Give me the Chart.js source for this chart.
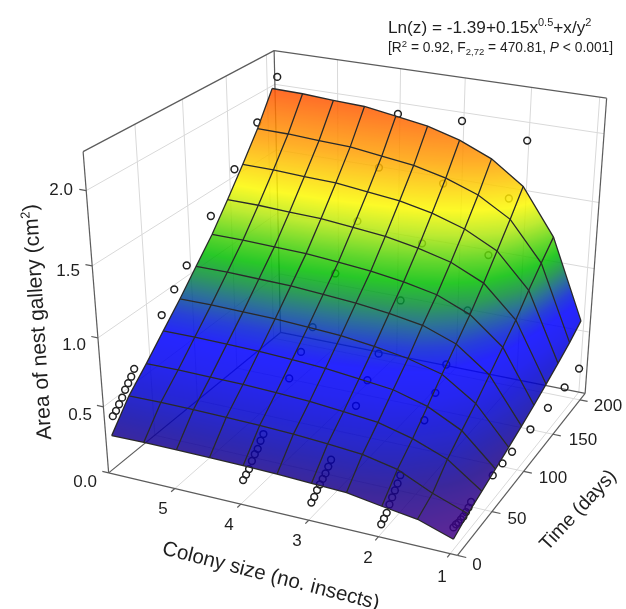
<!DOCTYPE html>
<html>
<head>
<meta charset="utf-8">
<style>html,body{margin:0;padding:0;background:#fff}canvas{display:block}</style>
<script src="https://cdn.jsdelivr.net/npm/chart.js@4"></script>
</head>
<body>
<canvas id="chart" width="626" height="609"></canvas>
<script>
// surface grid, rows = time, columns = colony size
const colonyGrid = [6, 5.5, 5, 4.5, 4, 3.5, 3, 2.5, 2, 1.5, 1];
const timeGrid = [4, 24, 44, 64, 84, 104, 124, 144, 164, 184, 204];
const areaGrid = [
  [0.265, 0.27, 0.27, 0.268, 0.265, 0.26, 0.25, 0.24, 0.2, 0.165, 0.08],
  [0.454, 0.458, 0.456, 0.453, 0.447, 0.438, 0.422, 0.4, 0.347, 0.23, 0.138],
  [0.591, 0.594, 0.591, 0.588, 0.579, 0.567, 0.546, 0.52, 0.455, 0.36, 0.18],
  [0.737, 0.739, 0.735, 0.731, 0.719, 0.704, 0.679, 0.65, 0.58, 0.455, 0.224],
  [0.882, 0.884, 0.878, 0.874, 0.859, 0.845, 0.815, 0.775, 0.71, 0.545, 0.269],
  [1.037, 1.037, 1.031, 1.025, 1.008, 0.99, 0.96, 0.92, 0.83, 0.65, 0.316],
  [1.191, 1.191, 1.183, 1.176, 1.156, 1.135, 1.1, 1.05, 0.95, 0.755, 0.364],
  [1.371, 1.37, 1.36, 1.353, 1.329, 1.305, 1.26, 1.2, 1.09, 0.86, 0.419],
  [1.56, 1.557, 1.546, 1.538, 1.511, 1.485, 1.435, 1.36, 1.24, 0.99, 0.476],
  [1.757, 1.753, 1.74, 1.731, 1.701, 1.67, 1.615, 1.53, 1.39, 1.105, 0.537],
  [1.99, 1.985, 1.97, 1.96, 1.925, 1.887, 1.82, 1.72, 1.555, 1.215, 0.61],
];

// observed colonies
const obsTimes = [3.5, 7, 10.5, 14, 17.5, 21, 24.5, 28, 60, 75, 90, 120, 150, 180, 207];
const obsColonies = [5.95, 4, 3, 2, 1];
const obsArea6 = [0.42, 0.44, 0.47, 0.5, 0.54, 0.57, 0.6, 0.64, 0.88, 1.0, 1.11, 1.35, 1.58, 1.82, 2.07];
const obsArea4 = [0.16, 0.18, 0.2, 0.24, 0.27, 0.29, 0.33, 0.36, 0.6, 0.72, 0.83, 1.09, 1.35, 1.63, 1.93];
const obsArea3 = [0.11, 0.13, 0.16, 0.18, 0.2, 0.22, 0.25, 0.28, 0.5, 0.61, 0.73, 0.98, 1.27, 1.59, 1.95];
const obsArea2 = [0.07, 0.09, 0.11, 0.15, 0.18, 0.21, 0.24, 0.28, 0.5, 0.62, 0.75, 1.0, 1.27, 1.56, 1.88];
const obsArea1 = [0.17, 0.17, 0.16, 0.16, 0.16, 0.17, 0.18, 0.2, 0.2, 0.2, 0.2, 0.2, 0.2, 0.2, 0.21];

const colonyTicks = [5, 4, 3, 2, 1];
const timeTicks = [0, 50, 100, 150, 200];
const areaTicks = [0, 0.5, 1, 1.5, 2];

// axis extents of the box
const colonyStart = 6.03, colonyEnd = 0.9, timeEnd = 210, areaTop = 2.25;

// z -> colour stops
const colourStops = [
  [0.08, [95, 40, 150]], [0.25, [60, 40, 155]], [0.36, [45, 40, 180]], [0.45, [40, 40, 205]],
  [0.6, [32, 35, 240]], [0.72, [30, 35, 255]], [0.82, [40, 65, 215]], [0.92, [45, 115, 150]],
  [1.0, [45, 155, 90]], [1.1, [40, 200, 40]], [1.2, [100, 215, 45]], [1.33, [190, 235, 50]],
  [1.45, [252, 250, 40]], [1.7, [255, 175, 40]], [2.0, [255, 105, 40]],
];
const surfaceAlpha = 0.85;

// camera: floor homography plus vertical vanishing point
function project(colony, time, area) {
  const u = (colonyStart - colony) / (colonyStart - colonyEnd);
  const v = time / timeEnd;
  const s = -0.04187 * area;
  const w = 1 - 0.0681 * u + 0.1737 * v + s;
  return {
    x: (323.7 * u + 223.6 * v + 105 + s * 355) / w,
    y: (45.9 * u - 85.2 * v + 476 + s * 3622) / w,
  };
}

function colourAt(z) {
  const stops = colourStops;
  let rgb = stops[stops.length - 1][1];
  if (z <= stops[0][0]) rgb = stops[0][1];
  for (let i = 1; i < stops.length; i++) {
    if (z <= stops[i][0] && z > stops[i - 1][0]) {
      const f = (z - stops[i - 1][0]) / (stops[i][0] - stops[i - 1][0]);
      rgb = stops[i][1].map((c, n) => stops[i - 1][1][n] + (c - stops[i - 1][1][n]) * f);
      break;
    }
  }
  // undo the white showing through the alpha
  return rgb.map((c) => Math.max(0, Math.min(255, (c - 255 * (1 - surfaceAlpha)) / surfaceAlpha)));
}

function lineSet(points, color, width, order) {
  return { data: points, showLine: true, borderColor: color, borderWidth: width, pointRadius: 0, order };
}

const grid = '#d9d9d9', frame = '#5c5c5c', mesh = '#2a2a2a';
const datasets = [];
const seg = (a, b) => [project(...a), project(...b)];

// walls and floor
areaTicks.slice(1).forEach((z) => {
  datasets.push(lineSet(seg([colonyStart, 0, z], [colonyStart, timeEnd, z]), grid, 1, 5));
  datasets.push(lineSet(seg([colonyStart, timeEnd, z], [colonyEnd, timeEnd, z]), grid, 1, 5));
});
timeTicks.slice(1).forEach((t) => {
  datasets.push(lineSet(seg([colonyStart, t, 0], [colonyStart, t, areaTop]), grid, 1, 5));
  datasets.push(lineSet(seg([colonyStart, t, 0], [colonyEnd, t, 0]), grid, 1, 5));
});
colonyTicks.forEach((c) => {
  datasets.push(lineSet(seg([c, timeEnd, 0], [c, timeEnd, areaTop]), grid, 1, 5));
  datasets.push(lineSet(seg([c, 0, 0], [c, timeEnd, 0]), grid, 1, 5));
});

// box frame
[
  [[colonyStart, 0, 0], [colonyStart, 0, areaTop]],
  [[colonyStart, 0, areaTop], [colonyStart, timeEnd, areaTop]],
  [[colonyStart, timeEnd, areaTop], [colonyEnd, timeEnd, areaTop]],
  [[colonyEnd, timeEnd, areaTop], [colonyEnd, timeEnd, 0]],
  [[colonyStart, timeEnd, 0], [colonyStart, timeEnd, areaTop]],
  [[colonyStart, 0, 0], [colonyEnd, 0, 0]],
  [[colonyEnd, 0, 0], [colonyEnd, timeEnd, 0]],
  [[colonyStart, 0, 0], [colonyStart, timeEnd, 0]],
  [[colonyStart, timeEnd, 0], [colonyEnd, timeEnd, 0]],
].forEach(([a, b]) => datasets.push(lineSet(seg(a, b), frame, 1.2, 4)));

// tick marks
colonyTicks.forEach((c) => datasets.push(lineSet(seg([c, 0, 0], [c, -4, 0]), frame, 1.2, 4)));
timeTicks.forEach((t) => datasets.push(lineSet(seg([colonyEnd, t, 0], [colonyEnd - 0.12, t, 0]), frame, 1.2, 4)));
areaTicks.forEach((z) => datasets.push(lineSet(seg([colonyStart, 0, z], [colonyStart + 0.1, 0, z]), frame, 1.2, 4)));

// observations
const obsPoints = [];
[obsArea6, obsArea4, obsArea3, obsArea2, obsArea1].forEach((areas, i) => {
  areas.forEach((z, n) => obsPoints.push(project(obsColonies[i], obsTimes[n], z)));
});
datasets.push({
  id: 'points', data: obsPoints, showLine: false, order: 3,
  pointRadius: 3.4, pointBorderWidth: 1.5, pointBorderColor: '#222', pointBackgroundColor: 'rgba(0,0,0,0)',
});

// mesh lines on the surface
areaGrid.forEach((row, i) => {
  datasets.push(lineSet(row.map((z, j) => project(colonyGrid[j], timeGrid[i], z)), mesh, 1.3, 1));
});
colonyGrid.forEach((c, j) => {
  datasets.push(lineSet(areaGrid.map((row, i) => project(c, timeGrid[i], row[j])), mesh, 1.3, 1));
});

// smooth shading: fill each cell's triangles pixel by pixel
function shadeTriangle(img, a, b, c) {
  const det = (b.y - c.y) * (a.x - c.x) + (c.x - b.x) * (a.y - c.y);
  if (Math.abs(det) < 1e-6) return;
  const x0 = Math.max(0, Math.floor(Math.min(a.x, b.x, c.x)));
  const x1 = Math.min(img.width - 1, Math.ceil(Math.max(a.x, b.x, c.x)));
  const y0 = Math.max(0, Math.floor(Math.min(a.y, b.y, c.y)));
  const y1 = Math.min(img.height - 1, Math.ceil(Math.max(a.y, b.y, c.y)));
  for (let y = y0; y <= y1; y++) {
    for (let x = x0; x <= x1; x++) {
      const px = x + 0.5, py = y + 0.5;
      const l1 = ((b.y - c.y) * (px - c.x) + (c.x - b.x) * (py - c.y)) / det;
      const l2 = ((c.y - a.y) * (px - c.x) + (a.x - c.x) * (py - c.y)) / det;
      const l3 = 1 - l1 - l2;
      if (l1 < -0.01 || l2 < -0.01 || l3 < -0.01) continue;
      const rgb = colourAt(l1 * a.z + l2 * b.z + l3 * c.z);
      const at = (y * img.width + x) * 4;
      img.data[at] = rgb[0];
      img.data[at + 1] = rgb[1];
      img.data[at + 2] = rgb[2];
      img.data[at + 3] = 255 * surfaceAlpha;
    }
  }
}

const surfacePlugin = {
  id: 'surface',
  afterDatasetDraw(chart, args) {
    if (chart.data.datasets[args.index].id !== 'points') return;
    const { x: xs, y: ys } = chart.scales;
    const off = document.createElement('canvas');
    off.width = chart.width;
    off.height = chart.height;
    const g = off.getContext('2d');
    const img = g.createImageData(off.width, off.height);
    const steps = 4;
    const at = (i, j, a, b) => {
      const z = (areaGrid[i][j] * (1 - a) + areaGrid[i][j + 1] * a) * (1 - b) +
        (areaGrid[i + 1][j] * (1 - a) + areaGrid[i + 1][j + 1] * a) * b;
      const c = colonyGrid[j] + (colonyGrid[j + 1] - colonyGrid[j]) * a;
      const t = timeGrid[i] + (timeGrid[i + 1] - timeGrid[i]) * b;
      const p = project(c, t, z);
      return { x: xs.getPixelForValue(p.x), y: ys.getPixelForValue(p.y), z };
    };
    for (let i = 0; i < timeGrid.length - 1; i++) {
      for (let j = 0; j < colonyGrid.length - 1; j++) {
        for (let m = 0; m < steps; m++) {
          for (let n = 0; n < steps; n++) {
            const p00 = at(i, j, n / steps, m / steps);
            const p10 = at(i, j, (n + 1) / steps, m / steps);
            const p11 = at(i, j, (n + 1) / steps, (m + 1) / steps);
            const p01 = at(i, j, n / steps, (m + 1) / steps);
            shadeTriangle(img, p00, p10, p11);
            shadeTriangle(img, p00, p11, p01);
          }
        }
      }
    }
    g.putImageData(img, 0, 0);
    chart.ctx.drawImage(off, 0, 0, chart.width, chart.height);
  },
};

const FONT = '"Liberation Sans", Arial, sans-serif';

function drawRuns(ctx, x, y, runs) {
  ctx.textAlign = 'left';
  ctx.textBaseline = 'alphabetic';
  runs.forEach(([text, size, dy, style]) => {
    ctx.font = `${style || ''} ${size}px ${FONT}`;
    ctx.fillText(text, x, y + (dy || 0));
    x += ctx.measureText(text).width;
  });
  return x;
}

function drawTurned(ctx, cx, cy, deg, runs) {
  ctx.save();
  ctx.translate(cx, cy);
  ctx.rotate((deg * Math.PI) / 180);
  let width = 0;
  runs.forEach(([text, size, dy, style]) => {
    ctx.font = `${style || ''} ${size}px ${FONT}`;
    width += ctx.measureText(text).width;
  });
  drawRuns(ctx, -width / 2, 6, runs);
  ctx.restore();
}

const labelPlugin = {
  id: 'labels',
  afterDraw(chart) {
    const ctx = chart.ctx;
    ctx.save();
    ctx.fillStyle = '#1f1f1f';
    ctx.textAlign = 'center';
    ctx.textBaseline = 'middle';
    ctx.font = `17px ${FONT}`;
    const colonySpots = [[163, 509], [229, 525], [297, 541], [368, 558], [442, 577]];
    colonyTicks.forEach((c, i) => ctx.fillText(String(c), colonySpots[i][0], colonySpots[i][1]));
    const timeSpots = [[477, 565], [517, 519], [553, 478], [583, 440], [608, 406]];
    timeTicks.forEach((t, i) => ctx.fillText(String(t), timeSpots[i][0], timeSpots[i][1]));
    ctx.textAlign = 'right';
    const areaSpots = [[97, 482], [92, 415], [86, 345], [80, 271], [73, 190]];
    areaTicks.forEach((z, i) => ctx.fillText(z.toFixed(1), areaSpots[i][0], areaSpots[i][1]));

    drawTurned(ctx, 38, 322, -93.5, [['Area of nest gallery (cm', 21], ['2', 13, -8], [')', 21]]);
    drawTurned(ctx, 271, 576, 14.4, [['Colony size (no. insects)', 20.5]]);
    drawTurned(ctx, 578, 510, -47, [['Time (days)', 19.5]]);

    drawRuns(ctx, 388, 33, [
      ['Ln(z) = -1.39+0.15x', 17.2], ['0.5', 11, -7], ['+x/y', 17.2], ['2', 11, -7],
    ]);
    drawRuns(ctx, 388, 52, [
      ['[R', 13.8], ['2', 9.5, -5], [' = 0.92, F', 13.8], ['2,72', 9.5, 3], [' = 470.81, ', 13.8],
      ['P', 13.8, 0, 'italic'], [' < 0.001]', 13.8],
    ]);
    ctx.restore();
  },
};

new Chart(document.getElementById('chart'), {
  type: 'scatter',
  data: { datasets },
  options: {
    responsive: false,
    animation: false,
    layout: { padding: 0 },
    plugins: { legend: { display: false }, tooltip: { enabled: false } },
    scales: {
      x: { type: 'linear', display: false, min: 0, max: 626 },
      y: { type: 'linear', display: false, min: 0, max: 609, reverse: true },
    },
  },
  plugins: [surfacePlugin, labelPlugin],
});
</script>
</body>
</html>
